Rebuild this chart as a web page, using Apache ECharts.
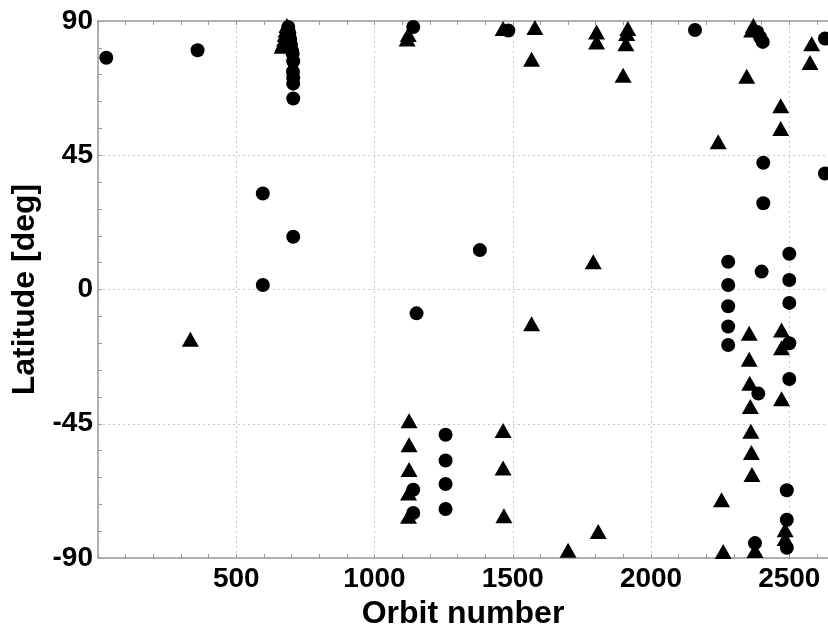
<!DOCTYPE html>
<html><head><meta charset="utf-8">
<script src="https://cdn.jsdelivr.net/npm/echarts@6/dist/echarts.min.js"></script>
<style>html,body{margin:0;padding:0;background:#fff}#c{width:828px;height:628px}</style>
</head><body><div id="c"></div>
<script>
// Orbit number / latitude pairs
const circleOrbit = [30, 360, 596, 596, 706,
  688, 692, 695, 698, 702, 704, 706, 705, 706, 706, 706,
  1140, 1484, 1381, 1152,
  1140, 1140, 1257, 1257, 1257, 1257,
  2159, 2384, 2395, 2404, 2406, 2406, 2629, 2629,
  2279, 2279, 2279, 2279, 2279, 2400,
  2500, 2500, 2500, 2500, 2500,
  2388, 2376, 2491, 2491, 2491];
const circleLat = [77.7, 80.2, 32.2, 1.5, 17.7,
  88, 86, 84, 82, 80, 79, 76.5, 73, 71, 69, 64,
  88, 86.8, 13.2, -8,
  -67.1, -74.9, -48.7, -57.3, -65.2, -73.6,
  87, 86.3, 84.5, 83, 42.5, 28.9, 84.1, 38.9,
  9.3, 1.5, -5.6, -12.4, -18.6, 6,
  12, 3.2, -4.5, -18, -30,
  -34.9, -85, -67.3, -77.2, -86.6];
const triangleOrbit = [334,
  683, 680, 677, 675, 670, 666, 688, 686,
  1122, 1118, 1465, 1580, 1568,
  1803, 1803, 1916, 1912, 1909, 1899,
  2370, 2364, 2346, 2469, 2469, 2243, 2581, 2575,
  1791, 1568,
  1125, 1125, 1125, 1123, 1123,
  1465, 1465, 1468, 1700, 1809, 2255, 2261,
  2355, 2355, 2357, 2359, 2361, 2363, 2365,
  2376, 2472, 2472, 2472, 2485, 2485];
const triangleLat = [-16.7,
  88.5, 87, 85.5, 84, 82.5, 81.5, 86, 83.5,
  85.5, 84, 87.5, 87.8, 77.2,
  86.3, 83, 87.5, 85.8, 82.4, 71.8,
  88.5, 87, 71.5, 61.6, 54, 49.5, 82.4, 76.1,
  9.3, -11.5,
  -44, -52, -60.3, -68.2, -76,
  -47.3, -59.8, -75.8, -87.4, -81.1, -70.5, -87.8,
  -14.7, -23.4, -31.4, -39.2, -47.5, -54.6, -62,
  -87.5, -13.6, -19.5, -36.6, -80.5, -83.5];
const xTicks = [500, 1000, 1500, 2000, 2500];
const yTicks = [-90, -45, 0, 45, 90];

const circles = circleOrbit.map((x, i) => [x, circleLat[i]]);
const triangles = triangleOrbit.map((x, i) => [x, triangleLat[i]]);

const FONT = 'Liberation Sans';
const axisLineStyle = {color: '#9a9a9a', width: 1.5};
const tickCfg = {show: true, inside: true, length: 4, lineStyle: {color: '#9a9a9a', width: 1}};
const minorCfg = {show: true, splitNumber: 5, length: 4, lineStyle: {color: '#9a9a9a', width: 1}};
const gridLine = {show: true, lineStyle: {color: '#c8c8c8', type: [2, 3], width: 1}};

const chart = echarts.init(document.getElementById('c'), null, {renderer: 'canvas'});
chart.setOption({
  backgroundColor: '#fff',
  animation: false,
  grid: {left: 98, top: 21, right: 0, bottom: 70, containLabel: false, outerBoundsMode: 'none'},
  xAxis: [{
    type: 'value', min: 0, max: 2640, interval: 500, position: 'bottom',
    name: 'Orbit number', nameLocation: 'middle', nameGap: 32,
    nameTextStyle: {fontFamily: FONT, fontWeight: 'bold', fontSize: 32, color: '#000'},
    axisLine: {show: true, onZero: false, lineStyle: axisLineStyle},
    axisTick: tickCfg, minorTick: minorCfg,
    splitLine: gridLine,
    axisLabel: {fontFamily: FONT, fontWeight: 'bold', fontSize: 28, color: '#000', margin: 7,
      showMinLabel: false, showMaxLabel: false,
      formatter: v => xTicks.includes(v) ? String(v) : ''}
  }, {
    type: 'value', min: 0, max: 2640, interval: 500, position: 'top',
    axisLine: {show: true, onZero: false, lineStyle: axisLineStyle},
    axisTick: tickCfg, minorTick: minorCfg,
    splitLine: {show: false}, axisLabel: {show: false}
  }],
  yAxis: {
    type: 'value', min: -90, max: 90, interval: 45,
    name: 'Latitude [deg]', nameLocation: 'middle', nameGap: 56,
    nameTextStyle: {fontFamily: FONT, fontWeight: 'bold', fontSize: 32, color: '#000'},
    axisLine: {show: true, onZero: false, lineStyle: axisLineStyle},
    axisTick: tickCfg, minorTick: minorCfg,
    splitLine: gridLine,
    axisLabel: {fontFamily: FONT, fontWeight: 'bold', fontSize: 28, color: '#000', margin: 5,
      formatter: v => yTicks.includes(v) ? String(v) : ''}
  },
  series: [{
    type: 'scatter', data: circles, symbol: 'circle', symbolSize: 14,
    itemStyle: {color: '#000', opacity: 1}, clip: false
  }, {
    type: 'scatter', data: triangles, symbol: 'triangle', symbolSize: [17, 15],
    itemStyle: {color: '#000', opacity: 1}, clip: false
  }]
});
</script></body></html>
